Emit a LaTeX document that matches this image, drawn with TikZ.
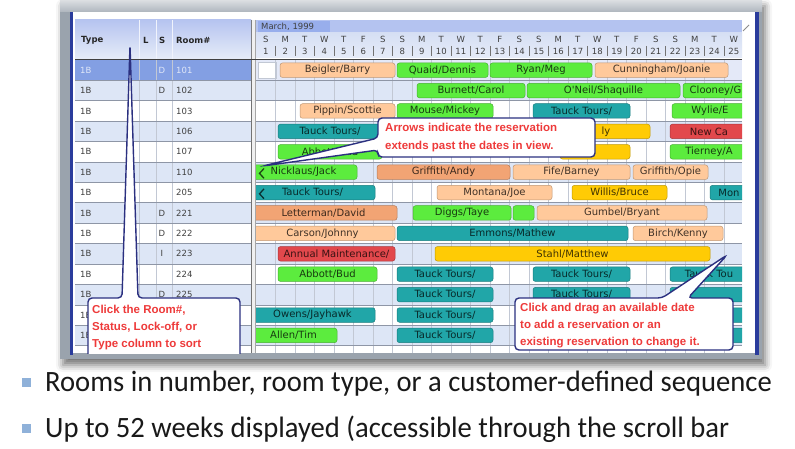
\documentclass[tikz,border=0pt]{standalone}
\usepackage{fontspec}
\setmainfont{Liberation Sans}
\newfontfamily\uifont{DejaVu Sans}
\newfontfamily\bulletfont[FakeStretch=0.97]{Carlito}
\usetikzlibrary{shadows.blur}

\definecolor{framegrey}{HTML}{9AA3AD}
\definecolor{winblue}{HTML}{2A3C9C}
\definecolor{hdrtop}{HTML}{B6C4F0}
\definecolor{hdrbot}{HTML}{E6ECF8}
\definecolor{monthbar}{HTML}{B4C3F0}
\definecolor{monthtag}{HTML}{98AEEC}
\definecolor{dayrow}{HTML}{D6DFF4}
\definecolor{selrow}{HTML}{839FE3}
\definecolor{selgantt}{HTML}{E4E9F8}
\definecolor{altrow}{HTML}{DDE6F6}
\definecolor{gridgrey}{HTML}{C2C8D4}
\definecolor{rowline}{HTML}{8E96A6}
\definecolor{salmon}{HTML}{FFC99B}
\definecolor{peach}{HTML}{F2A474}
\definecolor{resgreen}{HTML}{5CEC3E}
\definecolor{resteal}{HTML}{21A6A8}
\definecolor{resyellow}{HTML}{FFCB05}
\definecolor{resred}{HTML}{E2484C}
\definecolor{callred}{HTML}{EE3A3A}
\definecolor{callnavy}{HTML}{2B3080}
\definecolor{bulletblue}{HTML}{8FB1D9}

\begin{document}
\begin{tikzpicture}[x=1pt,y=-1pt,
  cell/.style={font=\uifont\fontsize{8.5}{8.5}\selectfont, text=black!75, inner sep=0pt},
  hdr/.style={font=\uifont\fontsize{8.5}{8.5}\selectfont\bfseries, text=black!85, inner sep=0pt, anchor=west},
  resbar/.style={draw=#1!75!black, fill=#1, rounded corners=2.5pt, line width=0.5pt,
    minimum height=14.5pt, inner sep=0pt, font=\uifont\fontsize{10}{10}\selectfont, text=#1!25!black},
  callout/.style={draw=callnavy, fill=white, line width=1.4pt, rounded corners=4pt},
  calltext/.style={font=\fontsize{11.5}{17}\selectfont\bfseries, text=callred, align=left, inner sep=0pt},
  bullet/.style={fill=bulletblue, minimum size=9pt, inner sep=0pt},
  bullettext/.style={font=\bulletfont\fontsize{29.5}{29.5}\selectfont, text=black!90, inner sep=0pt, anchor=base west}]
\useasboundingbox (0,0) rectangle (795,449);

% window frame
\fill[framegrey, blur shadow={shadow xshift=3pt, shadow yshift=-6pt, shadow blur radius=7pt, shadow opacity=55}] (60,0) rectangle (762,359);
\shade[top color=framegrey!35, bottom color=framegrey!80] (60,0) rectangle (762,12);
\fill[winblue] (70,12) rectangle (73,355);
\fill[winblue] (755,12) rectangle (759,355);
\fill[white] (73,12) rectangle (755,353);

\begin{scope}
\clip (73,12) rectangle (755,353);

% rows
\foreach \i in {1,3,...,13}
  \fill[altrow] (75,{60+20.4*\i}) rectangle (742,{80.4+20.4*\i});
\fill[selrow] (75,60) rectangle (251,80.4);
\fill[selgantt] (256,60) rectangle (742,80.4);
\draw[gridgrey, fill=white] (258,62) rectangle (276,78.5);
\foreach \k in {1,...,24}
  \draw[gridgrey, line width=0.5pt] ({256+19.5*\k},60) -- ({256+19.5*\k},353);
\foreach \x in {139,156,172}
  \draw[gridgrey] (\x,20) -- (\x,353);
\foreach \i in {1,...,14}
  \draw[rowline, line width=0.6pt] (75,{60+20.4*\i}) -- (742,{60+20.4*\i});

% splitter
\fill[black!6] (251,20) rectangle (256,353);
\draw[black!55] (251,20) -- (251,353);
\draw[black!35] (255.5,20) -- (255.5,353);

% table header
\shade[top color=hdrtop, bottom color=hdrbot] (75,20) rectangle (251,59);
\foreach \x in {139,156,172}
  \draw[white!80!hdrtop] (\x,20) -- (\x,59);
\node[hdr] (hType) at (81,40) {Type};
\node[hdr] (hL) at (143,40) {L};
\node[hdr] (hS) at (159,40) {S};
\node[hdr] (hRoom) at (176,40) {Room\#};

% gantt header
\fill[monthbar] (256,20) rectangle (742,33);
\fill[monthtag] (258,21) rectangle (330,32);
\node[cell, anchor=west] (month) at (261,27) {March, 1999};
\shade[top color=dayrow, bottom color=hdrbot] (256,33) rectangle (742,58);
\foreach \k/\d in {1/S,2/M,3/T,4/W,5/T,6/F,7/S,8/S,9/M,10/T,11/W,12/T,13/F,14/S,
                   15/S,16/M,17/T,18/W,19/T,20/F,21/S,22/S,23/M,24/T,25/W}{
  \node[cell] (dow\k) at ({265.75+19.5*(\k-1)},39.5) {\d};
  \node[cell] (day\k) at ({265.75+19.5*(\k-1)},51) {\k};
}
\foreach \k in {1,...,24}
  \draw[black!55] ({256+19.5*\k},46) -- ({256+19.5*\k},56);
\draw[black!75, line width=1.5pt] (75,59.5) -- (742,59.5);
\draw[black!45, line width=0.8pt] (743,31) -- (749,25);

% room list
\node[cell, anchor=west, text=white!75!selrow] (type0) at (80,70.2) {1B};
\node[cell, text=white!75!selrow] (stat0) at (162,70.2) {D};
\node[cell, anchor=west, text=white!75!selrow] (room0) at (176,70.2) {101};
\foreach \i/\s/\n in {1/D/102,2//103,3//106,4//107,5//110,6//205,7/D/221,
                      8/D/222,9/I/223,10//224,11/D/225,12//,13//}{
  \pgfmathsetmacro\yc{70.2+20.4*\i}
  \node[cell, anchor=west] (type\i) at (80,\yc) {1B};
  \node[cell] (stat\i) at (162,\yc) {\s};
  \node[cell, anchor=west] (room\i) at (176,\yc) {\n};
}

% reservations
\begin{scope}
\clip (256,60) rectangle (742,353);
\foreach \r/\a/\b/\c/\t in {
  0/280/395/salmon/{Beigler/Barry}, 0/397/488/resgreen/{Quaid/Dennis},
  0/490/592/resgreen/{Ryan/Meg}, 0/595/728/salmon/{Cunningham/Joanie},
  1/417/525/resgreen/{Burnett/Carol}, 1/527/680/resgreen/{O'Neil/Shaquille},
  1/683/748/resgreen/{Clooney/G},
  2/300/395/salmon/{Pippin/Scottie}, 2/397/493/resgreen/{Mouse/Mickey},
  2/533/630/resteal/{Tauck Tours/}, 2/672/748/resgreen/{Wylie/E},
  3/278/382/resteal/{Tauck Tours/}, 3/560/650/resyellow/{}, 3/670/748/resred/{New Ca},
  4/278/382/resgreen/{Abbott/Bud}, 4/560/630/resyellow/{}, 4/670/748/resgreen/{Tierney/A},
  5/250/357/resgreen/{Nicklaus/Jack}, 5/377/510/peach/{Griffith/Andy},
  5/513/630/salmon/{Fife/Barney}, 5/633/708/salmon/{Griffith/Opie},
  6/250/375/resteal/{Tauck Tours/}, 6/437/552/salmon/{Montana/Joe},
  6/572/667/resyellow/{Willis/Bruce}, 6/710/748/resteal/{Mon},
  7/250/397/peach/{Letterman/David}, 7/413/511/resgreen/{Diggs/Taye},
  7/513/534/resgreen/{}, 7/537/707/salmon/{Gumbel/Bryant},
  8/250/395/salmon/{Carson/Johnny}, 8/397/628/resteal/{Emmons/Mathew},
  8/633/723/salmon/{Birch/Kenny},
  9/278/395/resred/{Annual Maintenance/}, 9/435/710/resyellow/{Stahl/Matthew},
  10/278/377/resgreen/{Abbott/Bud}, 10/397/493/resteal/{Tauck Tours/},
  10/533/630/resteal/{Tauck Tours/}, 10/670/748/resteal/{Tauck Tou},
  11/397/493/resteal/{Tauck Tours/}, 11/533/630/resteal/{Tauck Tours/}, 11/670/748/resteal/{},
  12/250/375/resteal/{Owens/Jayhawk}, 12/397/493/resteal/{Tauck Tours/}, 12/670/748/resteal/{},
  13/250/337/resgreen/{Allen/Tim}, 13/397/493/resteal/{Tauck Tours/}, 13/670/748/resteal/{}}{
  \pgfmathsetmacro\yc{70.2+20.4*\r}
  \node[resbar=\c, minimum width={(\b-\a)*1pt}] (res-\r-\a) at ({(\a+\b)/2},\yc) {\t};
}
\node[inner sep=0pt, font=\uifont\fontsize{10}{10}\selectfont, text=resyellow!25!black] (lyTag) at (606,131.4) {ly};
\draw[resgreen!30!black, line width=1.3pt] (264,168.5) -- (259.5,173.4) -- (264,178.3);
\draw[resteal!30!black, line width=1.3pt] (264,188.9) -- (259.5,193.8) -- (264,198.7);
\end{scope}

% callouts
\coordinate (tipA) at (263,166);
\coordinate (tipB) at (130,45);
\coordinate (tipC) at (727,255);
\draw[callout] (378,118) -- (595,118) -- (595,157) -- (378,157) -- (378,150) -- (tipA) -- (378,138) -- cycle;
\node[calltext, anchor=west] (noteArrows) at (385,137.5) {Arrows indicate the reservation\\[1pt]extends past the dates in view.};
\draw[callout] (88,298) -- (122,298) -- (tipB) -- (138,298) -- (240,298) -- (240,372) -- (88,372) -- cycle;
\node[calltext, anchor=north west] (noteSort) at (92,305) {Click the Room\#,\\Status, Lock-off, or\\Type column to sort};
\draw[callout] (515,298) -- (662,298) -- (tipC) -- (688,298) -- (733,298) -- (733,350) -- (515,350) -- cycle;
\node[calltext, anchor=north west] (noteDrag) at (520,303) {Click and drag an available date\\to add a reservation or an\\existing reservation to change it.};
\end{scope}

% bullet lines
\node[bullet] (sq1) at (26.5,382) {};
\node[bullettext] (line1) at (45,391.5) {Rooms in number, room type, or a customer-defined sequence};
\node[bullet] (sq2) at (26.5,428) {};
\node[bullettext] (line2) at (45,437.5) {Up to 52 weeks displayed (accessible through the scroll bar};
\end{tikzpicture}
\end{document}
